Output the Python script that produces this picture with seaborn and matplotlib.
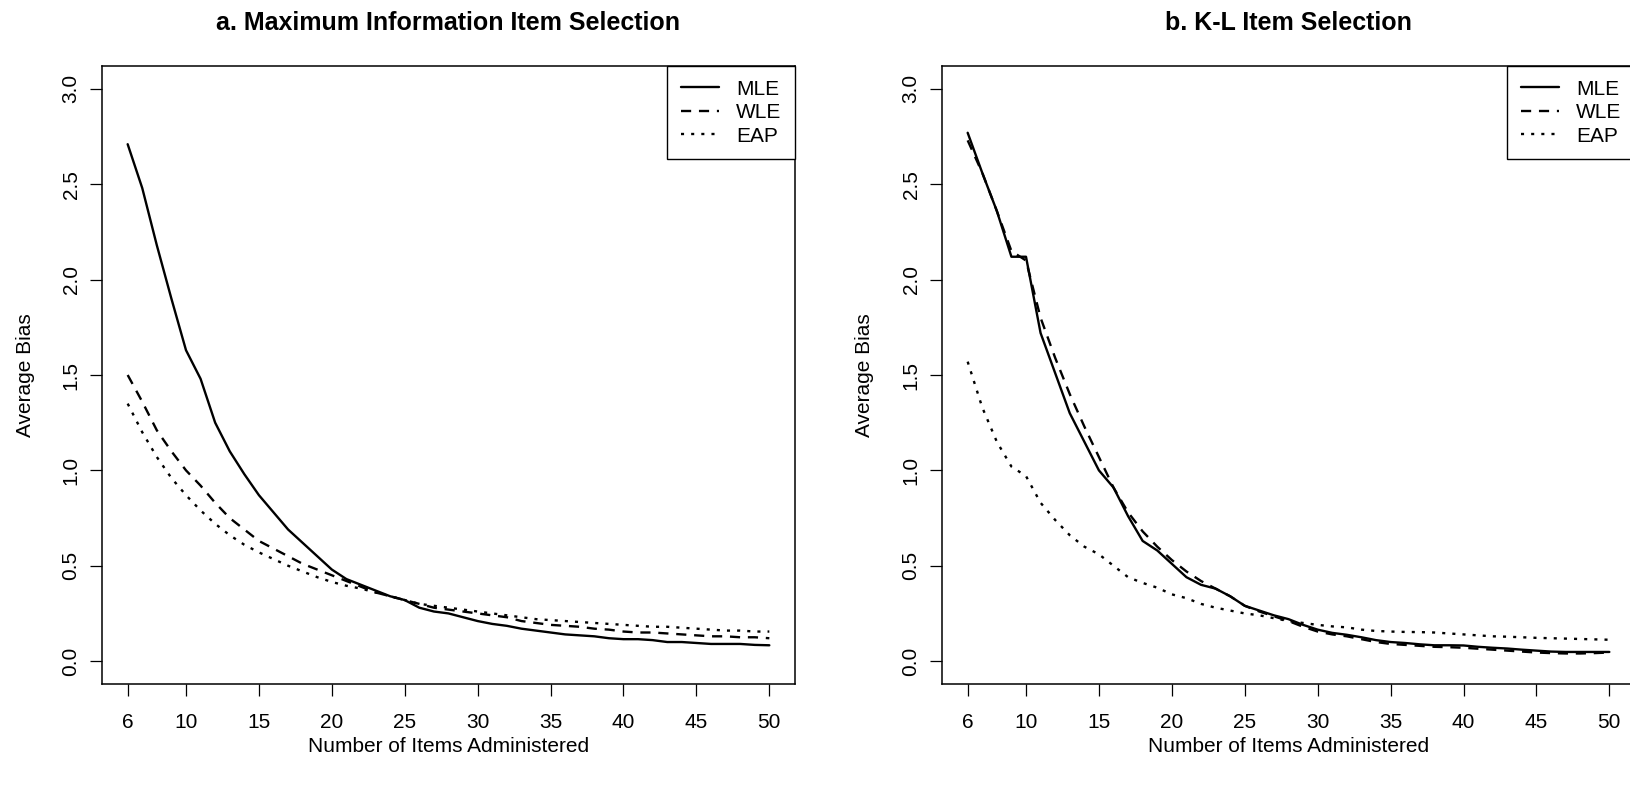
import matplotlib
matplotlib.use("Agg")
import matplotlib.pyplot as plt
from matplotlib.lines import Line2D
import pandas as pd
import seaborn as sns

# ---------------- data ----------------
items = list(range(6, 51))
x_ticks = [6, 10, 15, 20, 25, 30, 35, 40, 45, 50]
y_ticks = [0.0, 0.5, 1.0, 1.5, 2.0, 2.5, 3.0]
y_tick_labels = ["0.0", "0.5", "1.0", "1.5", "2.0", "2.5", "3.0"]
estimators = ["MLE", "WLE", "EAP"]
titles = ["a. Maximum Information Item Selection", "b. K-L Item Selection"]
x_label = "Number of Items Administered"
y_label = "Average Bias"

# panel a: Maximum Information item selection
mle_a = [2.71, 2.48, 2.18, 1.90, 1.63, 1.48, 1.25, 1.10, 0.98, 0.87,
         0.78, 0.69, 0.62, 0.55, 0.48, 0.43, 0.40, 0.37, 0.34, 0.32,
         0.28, 0.26, 0.25, 0.23, 0.21, 0.195, 0.185, 0.17, 0.16, 0.15,
         0.14, 0.135, 0.13, 0.12, 0.115, 0.115, 0.11, 0.10, 0.10, 0.095,
         0.09, 0.09, 0.09, 0.085, 0.083]
wle_a = [1.50, 1.36, 1.21, 1.10, 1.00, 0.92, 0.83, 0.75, 0.69, 0.63,
         0.59, 0.55, 0.51, 0.48, 0.45, 0.42, 0.39, 0.36, 0.34, 0.32,
         0.30, 0.28, 0.27, 0.26, 0.25, 0.24, 0.23, 0.21, 0.20, 0.19,
         0.185, 0.18, 0.17, 0.165, 0.155, 0.15, 0.15, 0.145, 0.14, 0.135,
         0.13, 0.13, 0.125, 0.125, 0.12]
eap_a = [1.35, 1.20, 1.07, 0.96, 0.87, 0.79, 0.72, 0.66, 0.61, 0.57,
         0.535, 0.50, 0.47, 0.44, 0.415, 0.395, 0.38, 0.36, 0.34, 0.32,
         0.30, 0.29, 0.28, 0.27, 0.26, 0.25, 0.24, 0.23, 0.22, 0.215,
         0.21, 0.205, 0.20, 0.195, 0.19, 0.185, 0.18, 0.18, 0.175, 0.17,
         0.165, 0.16, 0.16, 0.155, 0.155]

# panel b: K-L item selection
mle_b = [2.77, 2.56, 2.36, 2.12, 2.12, 1.72, 1.51, 1.30, 1.15, 1.00,
         0.91, 0.76, 0.63, 0.58, 0.51, 0.44, 0.40, 0.38, 0.34, 0.29,
         0.265, 0.24, 0.22, 0.19, 0.165, 0.148, 0.138, 0.125, 0.11, 0.10,
         0.095, 0.088, 0.083, 0.083, 0.082, 0.075, 0.07, 0.066, 0.06, 0.055,
         0.05, 0.048, 0.048, 0.048, 0.048]
wle_b = [2.73, 2.56, 2.36, 2.15, 2.10, 1.80, 1.59, 1.40, 1.23, 1.07,
         0.91, 0.78, 0.68, 0.60, 0.53, 0.47, 0.42, 0.38, 0.34, 0.29,
         0.26, 0.235, 0.21, 0.18, 0.155, 0.14, 0.13, 0.115, 0.10, 0.09,
         0.085, 0.08, 0.075, 0.073, 0.07, 0.065, 0.06, 0.055, 0.05, 0.045,
         0.042, 0.04, 0.04, 0.042, 0.045]
eap_b = [1.57, 1.33, 1.15, 1.02, 0.97, 0.83, 0.74, 0.66, 0.60, 0.56,
         0.50, 0.44, 0.41, 0.385, 0.35, 0.33, 0.30, 0.28, 0.265, 0.25,
         0.24, 0.225, 0.21, 0.20, 0.19, 0.182, 0.177, 0.165, 0.158, 0.155,
         0.153, 0.152, 0.15, 0.145, 0.14, 0.135, 0.13, 0.128, 0.125, 0.122,
         0.12, 0.118, 0.116, 0.114, 0.112]

panels = [(mle_a, wle_a, eap_a), (mle_b, wle_b, eap_b)]

# ---------------- style ----------------
sns.set_theme(style="ticks", rc={
    "text.color": "black", "axes.labelcolor": "black",
    "xtick.color": "black", "ytick.color": "black",
    "axes.edgecolor": "black",
})
plt.rcParams["font.family"] = ["Liberation Sans", "DejaVu Sans"]

LW = 1.7
dash_map = {"MLE": "", "WLE": (4.3, 3.3), "EAP": (1.3, 3.0)}
ls_map = {"MLE": "-", "WLE": (0, (4.3, 3.3)), "EAP": (0, (1.3, 3.0))}
FS = 15

W, H = 1630, 788
fig = plt.figure(figsize=(W / 100, H / 100), dpi=100)


def rect(left, right, top, bottom):
    return [left / W, 1 - bottom / H, (right - left) / W, (bottom - top) / H]


axes = [fig.add_axes(rect(102, 795, 66, 684)),
        fig.add_axes(rect(942, 1635, 66, 684))]

for ax, series, title in zip(axes, panels, titles):
    df = pd.DataFrame({
        "Items": items * 3,
        "Bias": list(series[0]) + list(series[1]) + list(series[2]),
        "Estimator": sum([[e] * len(items) for e in estimators], []),
    })
    sns.lineplot(data=df, x="Items", y="Bias", style="Estimator",
                 style_order=estimators, dashes=dash_map, color="black",
                 linewidth=LW, errorbar=None, legend=False, ax=ax)

    ax.set_xlim(4.24, 51.76)
    ax.set_ylim(-0.12, 3.12)
    ax.set_xticks(x_ticks)
    ax.set_xticklabels([str(t) for t in x_ticks])
    ax.set_yticks(y_ticks)
    ax.set_yticklabels(y_tick_labels, rotation=90, va="center")
    ax.tick_params(axis="x", direction="out", length=8.6, width=0.9,
                   pad=12.5, labelsize=FS)
    ax.tick_params(axis="y", direction="out", length=8.6, width=0.9,
                   pad=6.8, labelsize=FS)
    for s in ax.spines.values():
        s.set_visible(True)
        s.set_color("black")
        s.set_linewidth(1.1)

    ax.set_xlabel(x_label, fontsize=FS)
    ax.xaxis.set_label_coords(0.5, -62 / 618)
    ax.xaxis.label.set_va("center")
    ax.set_ylabel(y_label, fontsize=FS)
    ax.yaxis.set_label_coords(-77 / 693, 0.5)
    ax.yaxis.label.set_va("center")

    ax.set_title(title, fontsize=18, fontweight="bold",
                 y=(684 - 23) / 618, va="center", pad=0)

    handles = [Line2D([], [], color="black", lw=LW, linestyle=ls_map[e])
               for e in estimators]
    leg = ax.legend(handles, estimators, loc="upper right", borderaxespad=0,
                    frameon=True, fancybox=False, framealpha=1,
                    edgecolor="black", fontsize=FS, handlelength=1.85,
                    handletextpad=0.8, borderpad=0.65, labelspacing=0.22)
    leg.get_frame().set_linewidth(1.0)

fig.savefig("out.png", dpi=100)
